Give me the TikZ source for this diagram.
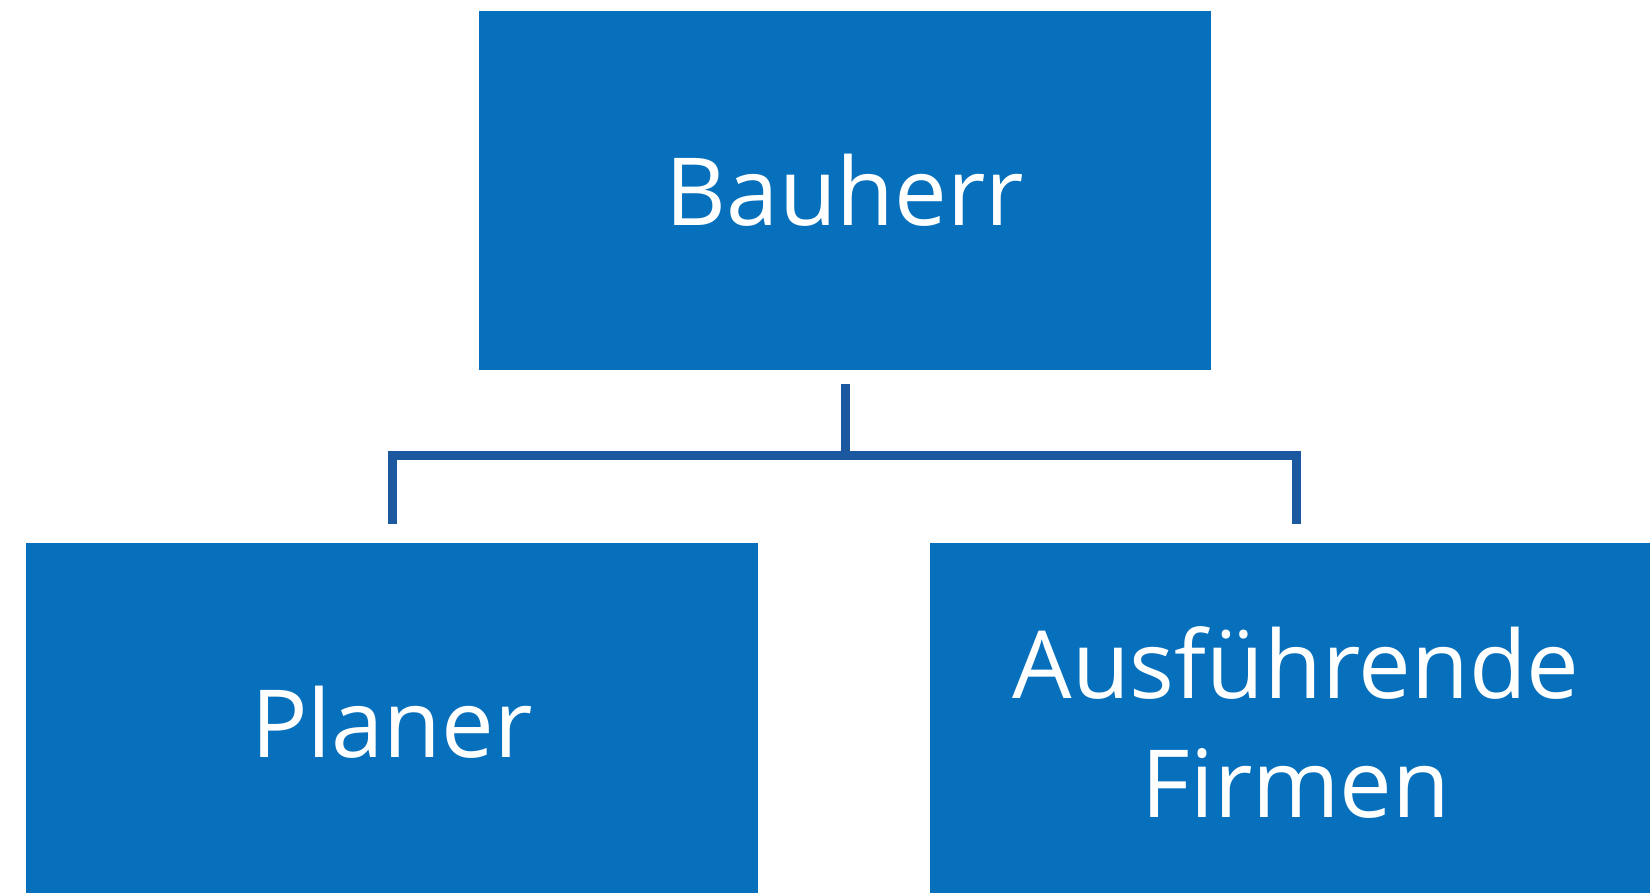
\documentclass[tikz,border=0pt]{standalone}
\usepackage{fontspec}
\setmainfont{Open Sans}
\definecolor{boxblue}{RGB}{6,112,188}
\definecolor{lineblue}{RGB}{28,88,160}
\begin{document}
\begin{tikzpicture}[x=1pt,y=-1pt,
  orgbox/.style={fill=boxblue,draw=none,minimum width=732pt,minimum height=359pt,
    text=white,font=\fontsize{94}{119}\selectfont,align=center,inner sep=0pt},
  conn/.style={draw=lineblue,line width=9pt}]
\useasboundingbox (0,0) rectangle (1650,892);
\clip (0,0) rectangle (1650,892);
\node[orgbox] (bau) at (845,190) {Bauherr};
\node[orgbox] (plan) at (392,722) {Planer};
\node[orgbox] (aus) at (1296,722) {Ausführende\\Firmen};
\coordinate (top) at (845,384);
\coordinate (mid) at (845,455);
\coordinate (lft) at (392,524);
\coordinate (rgt) at (1296,524);
\draw[conn] (top) -- (mid);
\draw[conn] (lft) |- (mid) -| (rgt);
\end{tikzpicture}
\end{document}
